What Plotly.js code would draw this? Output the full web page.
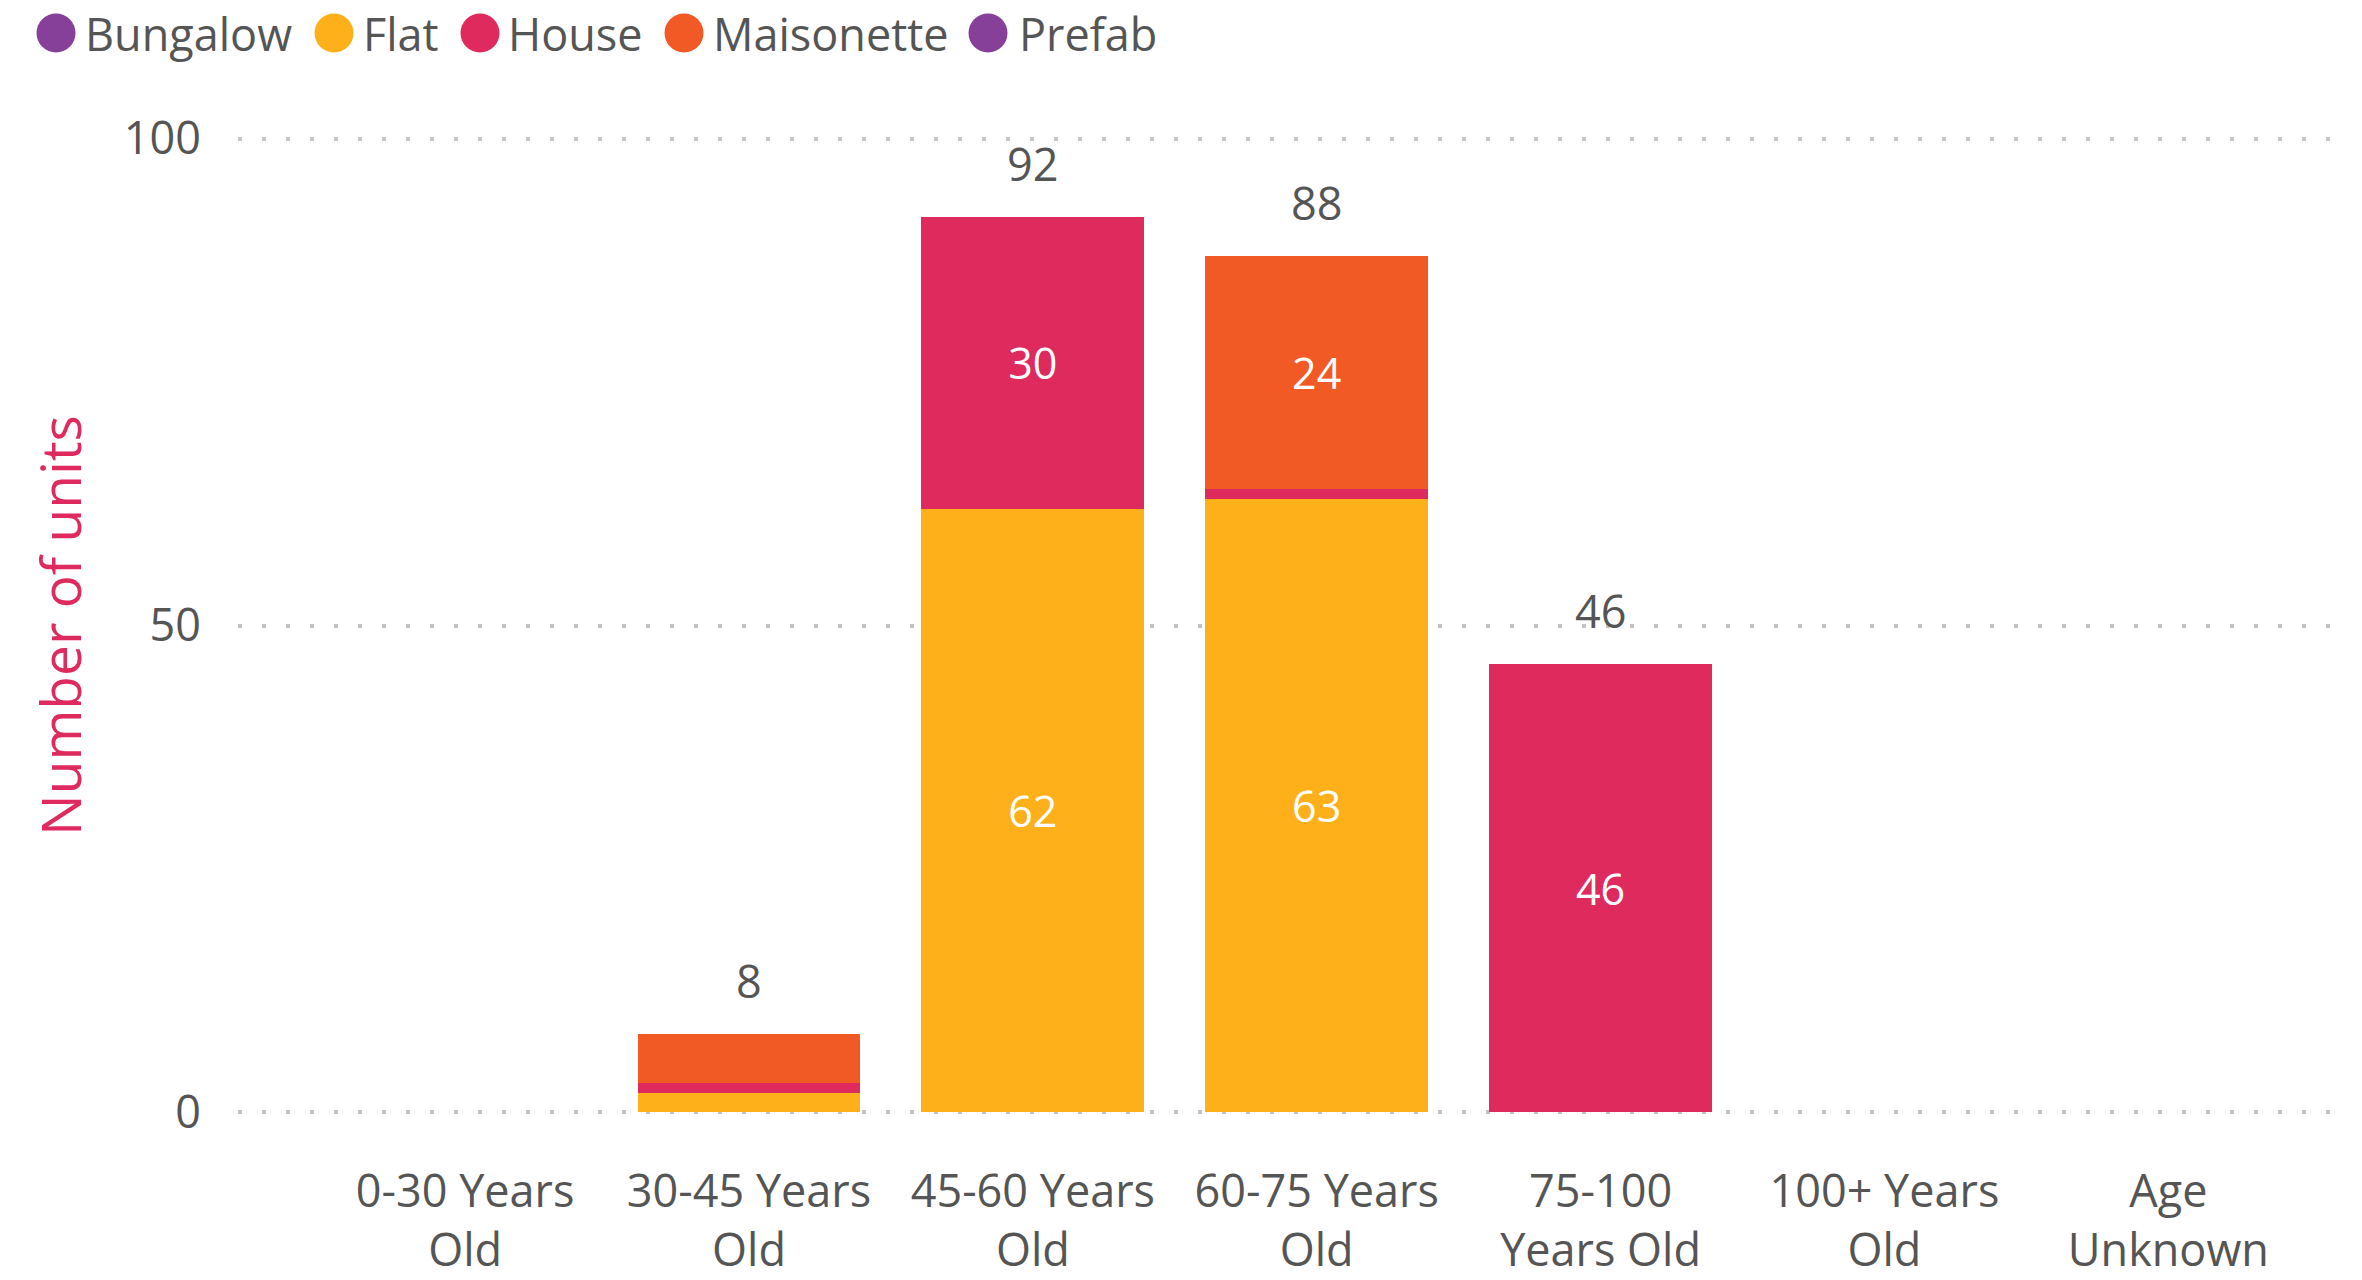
<!DOCTYPE html>
<html>
<head>
<meta charset="utf-8">
<script src="https://cdn.plot.ly/plotly-3.0.1.min.js"></script>
<style>html,body{margin:0;padding:0;background:#fff;}#chart{width:2362px;height:1280px;}</style>
</head>
<body>
<div id="chart"></div>
<script>
const categories = ["0-30 Years<br>Old", "30-45 Years<br>Old", "45-60 Years<br>Old", "60-75 Years<br>Old", "75-100<br>Years Old", "100+ Years<br>Old", "Age<br>Unknown"];
const bungalow   = [0, 0, 0, 0, 0, 0, 0];
const flat       = [0, 2, 62, 63, 0, 0, 0];
const house      = [0, 1, 30, 1, 46, 0, 0];
const maisonette = [0, 5, 0, 24, 0, 0, 0];
const prefab     = [0, 0, 0, 0, 0, 0, 0];
const seriesNames = ["Bungalow", "Flat", "House", "Maisonette", "Prefab"];
const seriesColors = ["#87409A", "#FDB019", "#DF2A5E", "#F15A24", "#87409A"];
const yTicks = [0, 50, 100];

// legend layout (pixel positions of marker centres and text starts)
const legendMarkerX = [56, 334, 480, 684, 988];
const legendTextX   = [83, 361, 506, 711, 1017];
const legendY = 33;

const FONT = '"Open Sans", "Noto Sans", sans-serif';
const M = {l: 238, r: 12, t: 129, b: 158};
const seriesData = [bungalow, flat, house, maisonette, prefab];
const totals = categories.map((c, i) => seriesData.reduce((s, arr) => s + arr[i], 0));

const traces = seriesData.map((vals, k) => ({
  type: 'bar',
  name: seriesNames[k],
  x: categories,
  y: vals,
  marker: {color: seriesColors[k], line: {width: 0}},
  text: vals.map(v => v >= 10 ? String(v) : ''),
  textposition: 'inside',
  insidetextanchor: 'middle',
  textangle: 0,
  constraintext: 'none',
  textfont: {family: FONT, size: 43, color: '#ffffff'},
  showlegend: false,
  hoverinfo: 'x+y+name'
}));

const totalAnn = categories.map((c, i) => totals[i] > 0 ? ({
  x: c, y: totals[i], xref: 'x', yref: 'y',
  text: String(totals[i]), showarrow: false,
  yanchor: 'bottom', yshift: 21,
  font: {family: FONT, size: 45, color: '#555555'}
}) : null).filter(a => a);

const legendAnn = seriesNames.map((n, k) => ({
  xref: 'paper', yref: 'paper', x: 0, y: 1,
  xanchor: 'left', yanchor: 'middle',
  xshift: legendTextX[k] - M.l, yshift: M.t - legendY,
  showarrow: false, text: n,
  font: {family: FONT, size: 45, color: '#555555'}
}));

const R = 19.5;
const legendShapes = seriesNames.map((n, k) => ({
  type: 'circle', xref: 'paper', yref: 'paper',
  xsizemode: 'pixel', ysizemode: 'pixel',
  xanchor: 0, yanchor: 1,
  x0: legendMarkerX[k] - M.l - R, x1: legendMarkerX[k] - M.l + R,
  y0: M.t - legendY - R, y1: M.t - legendY + R,
  fillcolor: seriesColors[k], line: {width: 0}
}));

const layout = {
  width: 2362, height: 1280,
  margin: M,
  paper_bgcolor: '#ffffff', plot_bgcolor: '#ffffff',
  barmode: 'stack',
  bargap: 0.215,
  showlegend: false,
  font: {family: FONT, size: 45, color: '#555555'},
  xaxis: {
    type: 'category',
    range: [-0.8, 6.64],
    showgrid: false, zeroline: false, showline: false,
    ticks: '',
    tickfont: {family: FONT, size: 45, color: '#555555'},
    ticklabelstandoff: 39
  },
  yaxis: {
    range: [-1, 101],
    tickvals: yTicks,
    ticktext: yTicks.map(String),
    showgrid: true,
    gridcolor: '#C4C4C4',
    gridwidth: 4,
    griddash: '4px,20px',
    zeroline: false, showline: false,
    ticks: '',
    tickfont: {family: FONT, size: 45, color: '#555555'},
    ticklabelstandoff: 36,
    title: {text: 'Number of units', font: {family: FONT, size: 55, color: '#DF2A5E'}, standoff: 24}
  },
  annotations: totalAnn.concat(legendAnn),
  shapes: legendShapes
};

Plotly.newPlot('chart', traces, layout, {displayModeBar: false, responsive: false});
</script>
</body>
</html>
